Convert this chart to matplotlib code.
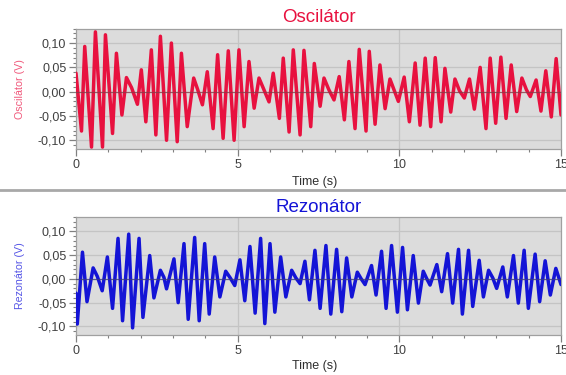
import matplotlib
matplotlib.use("Agg")
import matplotlib.pyplot as plt
from matplotlib.lines import Line2D
from matplotlib.ticker import MultipleLocator, FixedLocator

plt.rcParams['font.family'] = ['Liberation Sans', 'DejaVu Sans']

# --- data: extrema (time s, voltage V) ---
osc_t = [0.00, 0.17, 0.27, 0.48, 0.60, 0.82, 0.91, 1.13, 1.25, 1.42, 1.56, 1.72, 1.90,
         2.02, 2.16, 2.33, 2.47, 2.61, 2.80, 2.95, 3.13, 3.26, 3.44, 3.64, 3.76, 3.91,
         4.06, 4.24, 4.38, 4.55, 4.71, 4.89, 5.04, 5.20, 5.35, 5.51, 5.66, 5.80, 5.97,
         6.10, 6.29, 6.41, 6.59, 6.72, 6.93, 7.05, 7.26, 7.37, 7.55, 7.67, 7.82, 7.98,
         8.14, 8.30, 8.44, 8.63, 8.76, 8.97, 9.07, 9.25, 9.40, 9.56, 9.71, 9.84, 9.97,
         10.15, 10.31, 10.49, 10.64, 10.80, 10.97, 11.11, 11.29, 11.41, 11.59, 11.72,
         11.86, 12.01, 12.17, 12.32, 12.50, 12.68, 12.81, 12.98, 13.14, 13.30, 13.46,
         13.63, 13.79, 13.93, 14.05, 14.23, 14.38, 14.53, 14.70, 14.85, 15.00]
osc_v = [0.038, -0.081, 0.093, -0.114, 0.123, -0.114, 0.117, -0.086, 0.079, -0.048, 0.029, 0.008, -0.026,
         0.045, -0.062, 0.086, -0.089, 0.114, -0.100, 0.100, -0.103, 0.079, -0.072, 0.028, 0.005, -0.027,
         0.041, -0.076, 0.076, -0.096, 0.084, -0.100, 0.086, -0.072, 0.062, -0.034, 0.028, 0.006, -0.021,
         0.038, -0.055, 0.069, -0.083, 0.086, -0.089, 0.085, -0.072, 0.058, -0.030, 0.028, 0.004, -0.017,
         0.031, -0.058, 0.062, -0.076, 0.087, -0.081, 0.083, -0.067, 0.055, -0.035, 0.026, 0.003, -0.020,
         0.030, -0.062, 0.059, -0.069, 0.069, -0.072, 0.070, -0.062, 0.048, -0.042, 0.026,
         0.002, -0.013, 0.026, -0.036, 0.050, -0.076, 0.069, -0.065, 0.071, -0.055, 0.055,
         -0.041, 0.028, 0.004, -0.010, 0.024, -0.040, 0.043, -0.052, 0.068, -0.048]

rez_t = [0.00, 0.04, 0.20, 0.34, 0.53, 0.66, 0.81, 0.97, 1.13, 1.30, 1.44, 1.63, 1.75,
         1.95, 2.07, 2.28, 2.41, 2.61, 2.72, 2.80, 3.03, 3.16, 3.34, 3.47, 3.67, 3.81,
         3.98, 4.12, 4.29, 4.45, 4.63, 4.77, 4.91, 5.07, 5.22, 5.38, 5.54, 5.71, 5.84,
         6.00, 6.15, 6.33, 6.49, 6.67, 6.80, 6.93, 7.08, 7.22, 7.39, 7.55, 7.73, 7.88,
         8.06, 8.22, 8.37, 8.53, 8.70, 8.82, 8.94, 9.14, 9.28, 9.45, 9.59, 9.76, 9.94,
         10.10, 10.25, 10.43, 10.59, 10.74, 10.85, 10.95, 11.16, 11.31, 11.49, 11.65,
         11.83, 11.95, 12.14, 12.27, 12.47, 12.60, 12.76, 12.89, 13.01, 13.20, 13.34,
         13.53, 13.68, 13.86, 13.99, 14.20, 14.34, 14.51, 14.67, 14.84, 15.00]
rez_v = [-0.030, -0.095, 0.056, -0.048, 0.023, 0.005, -0.025, 0.046, -0.062, 0.085, -0.088, 0.094, -0.103,
         0.085, -0.081, 0.049, -0.040, 0.018, 0.003, -0.021, 0.042, -0.050, 0.074, -0.085, 0.087, -0.088,
         0.074, -0.074, 0.046, -0.038, 0.016, 0.002, -0.014, 0.040, -0.046, 0.068, -0.072, 0.085, -0.094,
         0.074, -0.070, 0.046, -0.038, 0.018, 0.002, -0.010, 0.037, -0.044, 0.060, -0.062, 0.070, -0.074,
         0.062, -0.069, 0.044, -0.038, 0.014, 0.000, -0.012, 0.028, -0.034, 0.058, -0.062, 0.070, -0.070,
         0.066, -0.065, 0.049, -0.051, 0.016, 0.000, -0.013, 0.030, -0.027, 0.053, -0.051,
         0.062, -0.074, 0.060, -0.058, 0.039, -0.038, 0.018, 0.002, -0.020, 0.025, -0.038,
         0.049, -0.051, 0.060, -0.062, 0.052, -0.048, 0.038, -0.034, 0.022, -0.012]

x_ticks = [0, 5, 10, 15]
x_ticklabels = ["0", "5", "10", "15"]
y_ticks = [-0.10, -0.05, 0.00, 0.05, 0.10]
y_ticklabels = ["-0,10", "-0,05", "0,00", "0,05", "0,10"]

W, H = 566, 375
fig = plt.figure(figsize=(W / 100, H / 100), dpi=100)
fig.patch.set_facecolor('white')

def px_axes(left, top, right, bottom):
    return fig.add_axes([left / W, 1 - bottom / H, (right - left) / W, (bottom - top) / H])

panels = [
    dict(box=(76, 28.5, 561, 149), t=osc_t, v=osc_v, color='#E8113F', title='Oscilátor',
         title_y=17, ylabel='Oscilátor (V)', ylabel_color='#F0577A', zero='#8a3a48', time_y=182),
    dict(box=(76, 217, 561, 335), t=rez_t, v=rez_v, color='#1414D6', title='Rezonátor',
         title_y=207, ylabel='Rezonátor (V)', ylabel_color='#5555E6', zero='#3a3a80', time_y=366),
]

for p in panels:
    ax = px_axes(*p['box'])
    ax.set_facecolor('#DCDCDC')
    ax.set_xlim(0, 15)
    ax.set_ylim(-0.118, 0.130)
    for yv in y_ticks:
        if yv != 0:
            ax.axhline(yv, color='#C4C4C4', lw=0.9, zorder=1)
    for xv in x_ticks[1:-1]:
        ax.axvline(xv, color='#C4C4C4', lw=0.9, zorder=1)
    ax.plot(p['t'], p['v'], color=p['color'], lw=2.5, zorder=3,
            solid_joinstyle='round', solid_capstyle='round')
    ax.axhline(0, color=p['zero'], lw=0.9, alpha=0.8, zorder=4)

    ax.xaxis.set_major_locator(FixedLocator(x_ticks))
    ax.set_xticklabels(x_ticklabels)
    ax.xaxis.set_minor_locator(MultipleLocator(1))
    ax.yaxis.set_major_locator(FixedLocator(y_ticks))
    ax.set_yticklabels(y_ticklabels)
    ax.yaxis.set_minor_locator(MultipleLocator(0.01))
    ax.tick_params(axis='both', which='major', length=5, width=0.9, color='#808080',
                   labelsize=9, labelcolor='#404040', pad=2)
    ax.tick_params(axis='both', which='minor', length=2.5, width=0.8, color='#808080')
    for s in ax.spines.values():
        s.set_color('#A0A0A0')
        s.set_linewidth(0.9)

    cx = (p['box'][0] + p['box'][2]) / 2 / W
    fig.text(cx, 1 - p['title_y'] / H, p['title'], color=p['color'], fontsize=13.5,
             ha='center', va='center')
    fig.text(20 / W, 1 - ((p['box'][1] + p['box'][3]) / 2) / H, p['ylabel'],
             color=p['ylabel_color'], fontsize=7.7, rotation=90, ha='center', va='center')
    fig.text(315 / W, 1 - p['time_y'] / H, 'Time (s)', color='#303030', fontsize=9,
             ha='center', va='center')

fig.add_artist(Line2D([0, 1], [1 - 190 / H, 1 - 190 / H], color='#A8A8A8', lw=2,
                      transform=fig.transFigure))

fig.savefig('out.png', dpi=100)
